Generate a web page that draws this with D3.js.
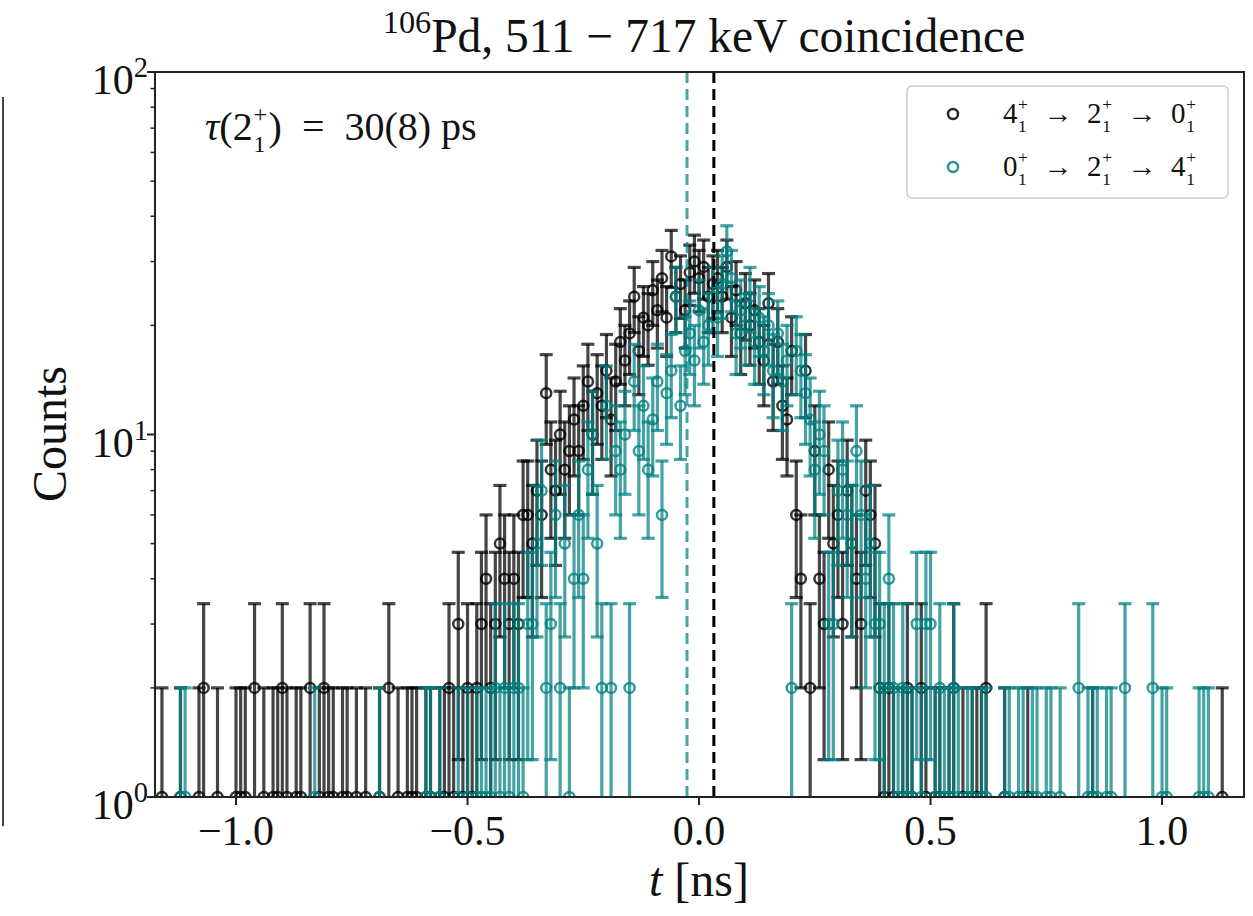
<!DOCTYPE html>
<html><head><meta charset="utf-8">
<script src="https://cdn.jsdelivr.net/npm/d3@7"></script>
<style>body{margin:0;background:#fff}text{font-family:"Liberation Serif","DejaVu Serif",serif;fill:#111;white-space:pre}</style>
</head><body>
<svg id="c" width="1253" height="916"></svg>
<script>
// ---- data ----
const binStart = -1.16, binWidth = 0.01;
// 4+ -> 2+ -> 0+ (black), counts per 0.01 ns bin starting at -1.16 ns
const countsA = [
  1,0,0,0,1,0,0,0,1,2,
  0,0,1,0,0,0,1,1,1,0,
  2,0,1,0,1,1,2,1,0,1,
  1,0,2,0,1,2,1,1,0,1,
  1,0,1,0,1,0,0,1,0,2,
  0,1,0,1,1,1,0,1,1,0,
  1,1,2,1,3,1,2,1,2,3,
  4,2,3,5,4,3,4,3,6,6,
  5,7,6,13,8,7,10,8,9,11,
  9,12,14,10,13,12,15,11,14,18,
  16,19,24,17,21,20,25,22,27,21,
  31,24,26,22,28,30,27,29,24,26,
  27,24,29,21,25,19,23,20,22,18,
  16,23,14,18,12,11,17,6,4,15,
  2,9,4,3,8,5,6,3,7,5,
  4,3,7,6,5,2,1,2,1,0,
  1,2,1,0,2,1,0,1,1,0,
  1,2,0,1,0,1,1,1,2,0,
  0,0,1,0,0,0,0,1,0,0,
  0,0,0,0,0,0,0,0,0,0,
  0,1,0,0,0,0,0,0,0,0,
  0,0,0,0,0,0,0,0,0,0,
  0,0,0,0,0,0,0,0,0,1,
  0,0,0
];
// 0+ -> 2+ -> 4+ (teal)
const countsB = [
  0,0,0,0,1,1,0,0,0,0,
  0,0,0,0,0,0,0,0,0,0,
  0,0,0,0,0,0,0,0,0,0,
  0,0,0,1,0,0,0,0,0,0,
  0,0,0,0,0,0,0,1,0,0,
  0,0,0,0,0,0,0,1,1,0,
  1,0,0,0,1,0,1,0,1,1,
  1,1,2,1,2,1,2,2,1,3,
  3,5,7,2,3,6,2,5,1,4,
  6,4,8,10,5,2,12,2,9,8,
  10,2,14,9,12,8,11,14,6,13,
  15,24,12,17,19,16,22,18,20,24,
  21,26,32,27,19,22,20,24,18,21,
  17,20,15,19,14,16,2,17,15,13,
  11,8,10,9,3,3,7,8,6,5,
  9,6,4,5,3,3,2,4,2,1,
  2,1,1,3,1,3,3,1,2,1,
  1,2,1,0,1,1,0,1,1,0,
  0,0,1,1,0,1,1,0,1,1,
  0,1,1,0,1,0,0,0,2,0,
  1,1,1,0,1,1,0,0,2,0,
  0,0,0,0,2,0,1,1,0,0,
  0,0,0,0,1,1,1,0,0,0,
  0,0,0
];
const centroidA = 0.032, centroidB = -0.026;
const xTicks = [-1.0, -0.5, 0.0, 0.5, 1.0];
const xTickLabels = ["\u22121.0", "\u22120.5", "0.0", "0.5", "1.0"];
const yTicks = [1, 10, 100];
const yTickExp = ["0", "1", "2"];
const colorA = "#000000", colorB = "#008080";

// ---- layout ----
const svg = d3.select("#c");
const L = 155, R = 1244, T = 72, B = 797;
const x = d3.scaleLinear().domain([-1.175, 1.177]).range([L, R]);
const y = d3.scaleLog().domain([1, 100]).range([B, T]);

// one <text> with positioned tspans (super/subscripts)
function rich(parent, px, py, segs, size, anchor) {
  const pieces = [];
  let cx = 0;
  const measure = (str, fs, it) => {
    const t = parent.append("text").attr("font-size", fs).text(str);
    if (it) t.attr("font-style", "italic");
    const w = t.node().getComputedTextLength();
    t.remove();
    return w;
  };
  segs.forEach(s => {
    if (s.type === "subsup") {
      const fs = size * 0.6;
      const wa = measure(s.sup, fs), wb = measure(s.sub, fs);
      pieces.push({ s: s.sup, x: cx + size*0.02, y: -0.45*size, fs });
      pieces.push({ s: s.sub, x: cx + size*0.02, y: 0.30*size, fs });
      cx += Math.max(wa, wb) + size*0.06;
    } else {
      const small = s.type === "sup" || s.type === "sub";
      const fs = small ? size*0.68 : size;
      const w = measure(s.s, fs, s.italic);
      pieces.push({ s: s.s, x: cx, y: s.type === "sup" ? -0.40*size : s.type === "sub" ? 0.24*size : 0, fs, it: s.italic });
      cx += w;
    }
  });
  const off = anchor === "middle" ? -cx/2 : anchor === "end" ? -cx : 0;
  const t = parent.append("text").attr("font-size", size);
  pieces.forEach(p => {
    const sp = t.append("tspan").attr("x", px + off + p.x).attr("y", py + p.y).attr("font-size", p.fs).text(p.s);
    if (p.it) sp.attr("font-style", "italic");
  });
  return t;
}

svg.append("defs").append("clipPath").attr("id", "clip")
  .append("rect").attr("x", L).attr("y", T).attr("width", R - L).attr("height", B - T);

// artifact line at left edge (from neighbouring panel)
svg.append("line").attr("x1", 3).attr("x2", 3).attr("y1", 97).attr("y2", 826)
  .attr("stroke", "#444").attr("stroke-width", 2);

const plot = svg.append("g").attr("clip-path", "url(#clip)");

function drawSeries(counts, color) {
  const data = counts.map((n, i) => ({ t: binStart + i*binWidth, n })).filter(d => d.n > 0);
  const g = plot.append("g");
  const cap = 6.5, sw = 3.2, op = 0.72;
  data.forEach(d => {
    const e = Math.sqrt(d.n);
    const xx = x(d.t);
    const hi = y(d.n + e);
    const lo = d.n - e > 0 ? y(d.n - e) : B + 20;
    g.append("line").attr("x1", xx).attr("x2", xx).attr("y1", hi).attr("y2", lo)
      .attr("stroke", color).attr("stroke-width", sw).attr("opacity", op);
    g.append("line").attr("x1", xx - cap).attr("x2", xx + cap).attr("y1", hi).attr("y2", hi)
      .attr("stroke", color).attr("stroke-width", sw).attr("opacity", op);
    if (d.n - e > 0) {
      g.append("line").attr("x1", xx - cap).attr("x2", xx + cap).attr("y1", lo).attr("y2", lo)
        .attr("stroke", color).attr("stroke-width", sw).attr("opacity", op);
    }
  });
  g.selectAll("circle").data(data).join("circle")
    .attr("cx", d => x(d.t)).attr("cy", d => y(d.n)).attr("r", 5)
    .attr("fill", "none").attr("stroke", color).attr("stroke-width", 2.5).attr("opacity", 0.8);
}
drawSeries(countsA, colorA);
drawSeries(countsB, colorB);

// centroid dashed lines
plot.append("line").attr("x1", x(centroidB)).attr("x2", x(centroidB)).attr("y1", T).attr("y2", B)
  .attr("stroke", colorB).attr("stroke-width", 3).attr("stroke-dasharray", "11,6").attr("opacity", 0.7);
plot.append("line").attr("x1", x(centroidA)).attr("x2", x(centroidA)).attr("y1", T).attr("y2", B)
  .attr("stroke", colorA).attr("stroke-width", 3).attr("stroke-dasharray", "11,6");

// frame
svg.append("rect").attr("x", L).attr("y", T).attr("width", R - L).attr("height", B - T)
  .attr("fill", "none").attr("stroke", "#222").attr("stroke-width", 2);

// x axis ticks
const ax = svg.append("g");
xTicks.forEach((v, i) => {
  ax.append("line").attr("x1", x(v)).attr("x2", x(v)).attr("y1", B).attr("y2", B + 8)
    .attr("stroke", "#222").attr("stroke-width", 2);
  ax.append("text").attr("x", x(v)).attr("y", 845).attr("text-anchor", "middle")
    .attr("font-size", 42).text(xTickLabels[i]);
});
// y axis ticks
const minor = [];
[1, 10].forEach(dec => { for (let k = 2; k <= 9; k++) minor.push(dec * k); });
minor.forEach(v => {
  ax.append("line").attr("x1", L - 4.5).attr("x2", L).attr("y1", y(v)).attr("y2", y(v))
    .attr("stroke", "#222").attr("stroke-width", 1.5);
});
yTicks.forEach((v, i) => {
  ax.append("line").attr("x1", L - 8).attr("x2", L).attr("y1", y(v)).attr("y2", y(v))
    .attr("stroke", "#222").attr("stroke-width", 2);
  rich(ax, 148, y(v) + 22, [{ s: "10" }, { type: "sup", s: yTickExp[i] }], 42, "end");
});

// labels
rich(svg, 704, 52, [{ type: "sup", s: "106" }, { s: "Pd, 511 \u2212 717 keV coincidence" }], 47.5, "middle");
rich(svg, 699, 896, [{ s: "t", italic: true }, { s: " [ns]" }], 48, "middle");
svg.append("text").attr("transform", "translate(66,434) rotate(-90)").attr("text-anchor", "middle")
  .attr("font-size", 48).text("Counts");

// annotation
rich(svg, 205, 140, [{ s: "\u03C4", italic: true }, { s: "(2" }, { type: "subsup", sup: "+", sub: "1" },
  { s: ")\u2002=\u200230(8) ps" }], 40, "start");

// legend
const lg = svg.append("g");
lg.append("rect").attr("x", 907).attr("y", 86).attr("width", 321).attr("height", 112).attr("rx", 5)
  .attr("fill", "#fff").attr("fill-opacity", 0.85).attr("stroke", "#ccc").attr("stroke-width", 1.5);
const legendItems = [
  { color: colorA, lab: ["4", "2", "0"] },
  { color: colorB, lab: ["0", "2", "4"] }
];
legendItems.forEach((it, i) => {
  const cy = 114 + i * 53;
  lg.append("circle").attr("cx", 953).attr("cy", cy).attr("r", 5).attr("fill", "none")
    .attr("stroke", it.color).attr("stroke-width", 2.5).attr("opacity", 0.85);
  rich(lg, 1003, cy + 9, [
    { s: it.lab[0] }, { type: "subsup", sup: "+", sub: "1" }, { s: "\u2002\u2192\u2002" + it.lab[1] },
    { type: "subsup", sup: "+", sub: "1" }, { s: "\u2002\u2192\u2002" + it.lab[2] }, { type: "subsup", sup: "+", sub: "1" }
  ], 29, "start");
});
</script>
</body></html>
